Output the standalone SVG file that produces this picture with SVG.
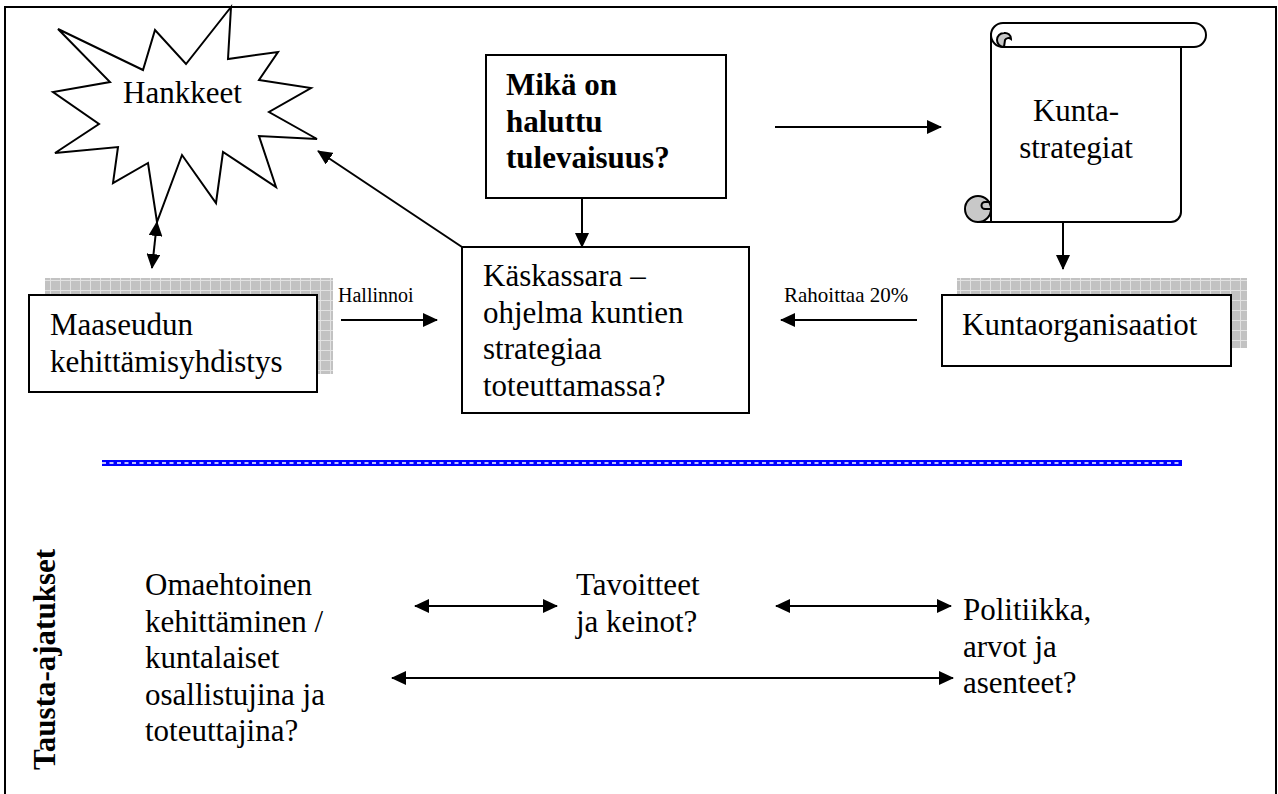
<svg xmlns="http://www.w3.org/2000/svg" width="1278" height="794" viewBox="0 0 1278 794">
  <style>
    text { font-family: "Liberation Serif", "Times New Roman", serif; font-size: 31px; fill: #000; }
    .b { font-weight: bold; }
    .s { font-size: 20px; }
    .shape { fill: #fff; stroke: #000; stroke-width: 2; }
    .line { fill: none; stroke: #000; stroke-width: 2; }
    .curl { fill: #c8c8c8; stroke: #000; stroke-width: 2; }
  </style>
  <defs>
    <pattern id="grid" width="10" height="10" patternUnits="userSpaceOnUse">
      <rect width="10" height="10" fill="#c2c2c2"/>
      <path d="M0,0.5 H10 M0.5,0 V10" stroke="#e2e2e2" stroke-width="1"/>
    </pattern>
    <marker id="arr" markerUnits="userSpaceOnUse" markerWidth="15" markerHeight="14" refX="14" refY="7" orient="auto-start-reverse">
      <path d="M0,0 L15,7 L0,14 Z" fill="#000"/>
    </marker>
  </defs>

  <!-- page frame -->
  <path d="M5,800 V7 H1276 V800" class="line"/>

  <g id="hankkeet">
    <polygon class="shape" points="58,29 143,70 155,30 186,64 231,7 228,59 278,52 259,80 311,88 269,112 317,139 259,136 276,187 223,152 216,203 182,155 157,222 148,163 113,183 118,147 55,153 99,124 53,92 110,82"/>
    <text x="123" y="103">Hankkeet</text>
  </g>

  <g id="tulevaisuus">
    <rect class="shape" x="486" y="55" width="240" height="143"/>
    <text class="b" x="506" y="95">Mikä on</text>
    <text class="b" x="506" y="132">haluttu</text>
    <text class="b" x="506" y="168">tulevaisuus?</text>
  </g>

  <g id="kuntastrategiat">
    <!-- scroll body -->
    <path class="shape" d="M991,35 V209 H978 V222 H1171 A10,10 0 0 0 1181,212 V47 H1003 Z"/>
    <!-- top roll with its curled left end -->
    <path class="shape" d="M1003,23 H1194 A12,12 0 0 1 1194,47 H1003 A12,12 0 0 1 991,35 A12,12 0 0 1 1003,23 Z"/>
    <path class="curl" d="M1004,47 A7,7 0 0 1 1004,33 A6,6 0 0 1 1011,39 A4,4 0 0 0 1005,40 Z"/>
    <path class="line" d="M1004,47 H1012"/>
    <!-- bottom curl -->
    <circle class="curl" cx="978" cy="209" r="13"/>
    <path class="line" d="M991,202 H985 A3.5,3.5 0 0 0 985,209 H991"/>
    <path class="line" d="M978,222 H991 V196"/>
    <text x="1076" y="121" text-anchor="middle">Kunta-</text>
    <text x="1076" y="158" text-anchor="middle">strategiat</text>
  </g>

  <g id="maaseudun">
    <rect x="45" y="278" width="288" height="96" fill="url(#grid)"/>
    <rect class="shape" x="29" y="295" width="288" height="97"/>
    <text x="50" y="335">Maaseudun</text>
    <text x="50" y="372">kehittämisyhdistys</text>
  </g>

  <g id="kaskassara">
    <rect class="shape" x="462" y="247" width="287" height="166"/>
    <text x="483" y="286">Käskassara –</text>
    <text x="483" y="322.5">ohjelma kuntien</text>
    <text x="483" y="359">strategiaa</text>
    <text x="483" y="395.5">toteuttamassa?</text>
  </g>

  <g id="kuntaorganisaatiot">
    <rect x="957" y="278" width="290" height="70" fill="url(#grid)"/>
    <rect class="shape" x="942" y="295" width="289" height="71"/>
    <text x="962" y="335">Kuntaorganisaatiot</text>
  </g>

  <!-- separator between the two parts -->
  <g id="separator">
    <line x1="102" y1="463" x2="1182" y2="463" stroke="#0000ff" stroke-width="6"/>
    <line x1="102" y1="463" x2="1182" y2="463" stroke="#ffffff" stroke-width="1.6" stroke-dasharray="4 3.5"/>
  </g>

  <g id="tausta">
    <text class="b" transform="translate(55,770) rotate(-90)">Tausta-ajatukset</text>
  </g>

  <g id="omaehtoinen">
    <text x="145" y="595">Omaehtoinen</text>
    <text x="145" y="632">kehittäminen /</text>
    <text x="145" y="668">kuntalaiset</text>
    <text x="145" y="705">osallistujina ja</text>
    <text x="145" y="741">toteuttajina?</text>
  </g>

  <g id="tavoitteet">
    <text x="576" y="595">Tavoitteet</text>
    <text x="576" y="632">ja keinot?</text>
  </g>

  <g id="politiikka">
    <text x="963" y="620">Politiikka,</text>
    <text x="963" y="657">arvot ja</text>
    <text x="963" y="693">asenteet?</text>
  </g>

  <g id="connectors" class="line">
    <line x1="157" y1="222" x2="152" y2="268" marker-start="url(#arr)" marker-end="url(#arr)"/>
    <line x1="462" y1="247" x2="318" y2="151" marker-end="url(#arr)"/>
    <line x1="582" y1="198" x2="582" y2="247" marker-end="url(#arr)"/>
    <line x1="775" y1="127" x2="941" y2="127" marker-end="url(#arr)"/>
    <line x1="1063" y1="222" x2="1063" y2="269" marker-end="url(#arr)"/>
    <line x1="341" y1="320" x2="437" y2="320" marker-end="url(#arr)"/>
    <text class="s" x="338" y="302" stroke="none">Hallinnoi</text>
    <line x1="917" y1="320" x2="781" y2="320" marker-end="url(#arr)"/>
    <text class="s" x="784" y="302" stroke="none" style="font-size:21px">Rahoittaa 20%</text>
    <line x1="415" y1="606" x2="557" y2="606" marker-start="url(#arr)" marker-end="url(#arr)"/>
    <line x1="776" y1="606" x2="951" y2="606" marker-start="url(#arr)" marker-end="url(#arr)"/>
    <line x1="392" y1="678" x2="953" y2="678" marker-start="url(#arr)" marker-end="url(#arr)"/>
  </g>
</svg>
